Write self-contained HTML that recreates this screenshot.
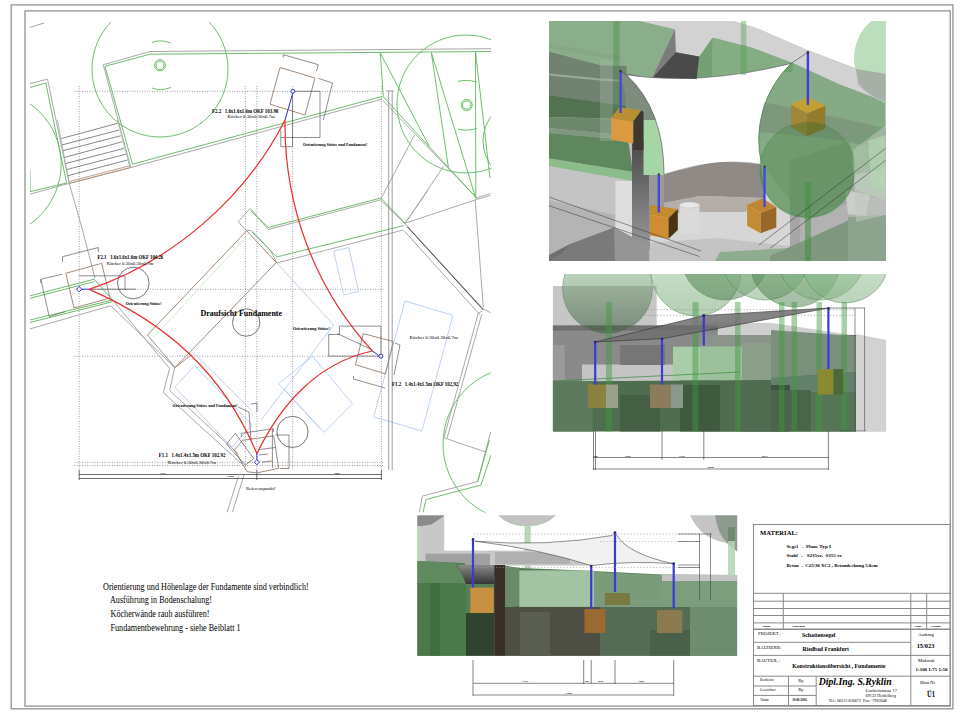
<!DOCTYPE html>
<html><head><meta charset="utf-8"><style>
html,body{margin:0;padding:0;background:#fff;width:960px;height:720px;overflow:hidden}
svg{display:block;position:absolute;left:0;top:0}
text{font-family:"Liberation Serif",serif;fill:#000}
.b{font-weight:bold}
</style></head><body>
<svg width="960" height="720" viewBox="0 0 960 720">
<!-- frames -->
<rect x="11.2" y="4.9" width="941.7" height="703.9" fill="none" stroke="#9a9a9a" stroke-width="1.4"/>
<rect x="25" y="10.9" width="925.3" height="695.2" fill="none" stroke="#9a9a9a" stroke-width="1.4"/>

<!-- PLAN -->
<g id="plan">
<defs><clipPath id="cp"><rect x="30" y="22" width="461" height="490.5"/></clipPath></defs>
<g clip-path="url(#cp)" fill="none">
<line x1="29.5" y1="27.5" x2="44.2" y2="23" stroke="#999" stroke-width="0.9"/>
<!-- dotted grid -->
<g stroke="#777" stroke-width="0.8" stroke-dasharray="0.9,1.6">
<line x1="74.5" y1="91.3" x2="384.2" y2="91.3"/>
<line x1="90" y1="289.3" x2="384" y2="289.3"/>
<line x1="74.5" y1="356.2" x2="384" y2="356.2"/>
<line x1="74.5" y1="462.3" x2="384" y2="462.3"/>
<line x1="74.5" y1="465.5" x2="384" y2="465.5"/>
<line x1="79.2" y1="86" x2="79.2" y2="470"/>
<line x1="245.4" y1="86" x2="245.4" y2="470"/>
<line x1="256.8" y1="86" x2="256.8" y2="470"/>
<line x1="292.7" y1="86" x2="292.7" y2="470"/>
<line x1="381.4" y1="86" x2="381.4" y2="470"/>
</g>
<!-- green trees -->
<g stroke="#5cb85c" stroke-width="0.9">
<circle cx="160" cy="69" r="68"/>
<circle cx="160" cy="65.3" r="5.5"/><circle cx="160" cy="65.3" r="4.2"/>
<path d="M152,42.5 Q160,39 170.8,43"/><path d="M152,88 Q160,91.5 170.8,87.5"/>
<circle cx="466" cy="104" r="69"/>
<circle cx="466.7" cy="105" r="5.5"/><circle cx="466.7" cy="105" r="4.2"/>
<path d="M458,81.5 Q466,79 476.7,82"/><path d="M458,129 Q466,131.5 476.7,128.5"/>
<circle cx="-12.5" cy="164" r="73.7"/>
<circle cx="520" cy="444" r="77"/>
<circle cx="524" cy="141" r="41"/>
<!-- green tree lines right -->
<line x1="380.3" y1="53" x2="383.3" y2="96.7"/>
<line x1="380.3" y1="53" x2="429.2" y2="146.3"/>
<line x1="431.3" y1="52.5" x2="448.3" y2="166.7"/>
<line x1="431.3" y1="52.5" x2="475.8" y2="198.3"/>
<line x1="475.5" y1="52" x2="475.8" y2="198.3"/>
<line x1="475.5" y1="52" x2="490" y2="178"/>
</g>
<!-- buildings: gray outlines -->
<g stroke="#a9a9a9" stroke-width="1">
<polyline points="26,84.5 47.5,79.2 69.2,183.3"/>
<polyline points="30,194.2 69.2,183.3 130.8,167.5 381.7,99.2 476,197.3"/>
<polyline points="103.3,64.7 150,51.5 491,48.7"/>
<line x1="103.3" y1="64.7" x2="130.8" y2="167.5"/>
<polyline points="26,198 26,198"/>
<line x1="82.5" y1="230" x2="69.2" y2="183.3"/>
<line x1="82.5" y1="230" x2="95" y2="278.3"/>
<polyline points="26,330 110.8,305.8"/>
<polyline points="113.3,300.8 169.6,368.5 163.3,392.5 234.2,457.1 242,464"/>
<polyline points="110.8,305.8 174.8,367.5 169.6,390.4 238.3,454"/>
<polyline points="238.3,221.7 250.3,208.3 268.3,229.5 380.4,199.9 404.8,223.4 483.3,309 490.5,312.7"/>
<line x1="407.5" y1="227" x2="483.3" y2="310" stroke="#4a4a4a"/>
<polyline points="403.9,230.6 479.7,314.5"/>
<polyline points="482,311 478.3,313.3 443.9,437.8 486.1,452.2"/>
<polyline points="481.7,314.4 447.2,437.8"/>
<polyline points="490.6,432.2 477.7,481.6 422.3,496.1 419.4,512.5"/>
<polyline points="238.3,221.7 245.8,230 251.7,230.8 270,250 277,263"/>
<polyline points="277,263 403.3,230"/>
<polyline points="404.8,223.4 475.2,199.9 490.5,195.4"/><line x1="476" y1="198" x2="490.5" y2="193.5"/>
<line x1="405.2" y1="223.3" x2="443.7" y2="166"/>
<line x1="381.2" y1="198.3" x2="414.6" y2="134.8"/>
<line x1="475.2" y1="199.9" x2="483.3" y2="307.3"/>
<line x1="404.8" y1="223.4" x2="428.2" y2="190"/>

<polyline points="238.5,476 227,512.6"/>
<polyline points="244,475 232.3,512.6"/>
</g>
<g stroke="#5fb35f" stroke-width="0.9">
<polyline points="30,87.5 45.8,83 57.5,140 66.7,183"/>
<polyline points="105,66.3 150,54.2 491,51.5"/>
<line x1="105" y1="66.3" x2="132.5" y2="164.2"/>
<polyline points="30,170 30,191.7 66.7,183"/>
<polyline points="132.5,164.2 380.5,96.8 382.5,97"/>
<line x1="383.3" y1="97" x2="476" y2="197.3"/>
<polyline points="30,295.8 94.2,279.2 112.5,300 30,320"/>
<polyline points="30,298.3 94.2,281.7"/>
<polyline points="30,322.5 112.5,301.7"/>
<polyline points="250.8,210.8 268.3,227.5 380.8,198 405,223"/>
<polyline points="252,232 277,257"/>
<polyline points="277.3,256.8 403.6,225.6"/>
<polyline points="491,374 491,374"/>
<polyline points="489.4,440 477.7,481.6"/>
<polyline points="491,455 481,485 426,499.5 423,512.5"/>
</g>
<!-- stairs -->
<g stroke="#6a6a6a" stroke-width="0.8">
<line x1="60.8" y1="138.7" x2="117.5" y2="123.3"/>
<line x1="61.7" y1="145" x2="119.2" y2="130"/>
<line x1="62.5" y1="150.8" x2="120.8" y2="135.8"/>
<line x1="64.2" y1="157.5" x2="122.5" y2="141.7"/>
<line x1="65" y1="163.7" x2="124.2" y2="148.3"/>
<line x1="66.3" y1="169.7" x2="125.8" y2="154.2"/>
<line x1="67.5" y1="175.8" x2="127.5" y2="160"/>
</g>
<g stroke="#b08a70" stroke-width="0.8"><line x1="69.2" y1="181.5" x2="130" y2="165.7"/><line x1="69.5" y1="183.5" x2="130.5" y2="167.5"/></g>
<g stroke="#a9a9a9" stroke-width="0.8">
<line x1="57.5" y1="120" x2="69.2" y2="183.3"/>
<line x1="117.5" y1="120" x2="130" y2="167.5"/>
</g>
<!-- light blue shapes -->
<g stroke="#aac8ea" stroke-width="0.8">
<polygon points="333.7,251.2 348.7,247.5 358.7,291.2 343.7,295"/>
<polygon points="278.7,383.7 312.5,356.2 352.5,403.7 324.2,432.4"/>
<polygon points="405,301 453,315.4 421.9,431.1 373.7,416.8"/>
<polyline points="277.5,263.7 333.7,325 261.2,420"/>
<polygon points="174.8,387.3 194.6,365.4 252,425 232,447"/>
<line x1="192.5" y1="351.9" x2="252" y2="411"/>
<line x1="153.7" y1="337.5" x2="243.7" y2="240" stroke="#c8e6c8"/>
<line x1="285" y1="390" x2="320" y2="428.7"/>
</g>
<!-- brown rect -->
<g stroke="#9a7e6a" stroke-width="0.9">
<polygon points="246.7,230.8 276.3,262.5 175,367.5 147.5,335"/>
<line x1="175" y1="367.5" x2="191.2" y2="355"/>
</g>
<!-- black circles -->
<g stroke="#555" stroke-width="0.8">
<circle cx="133.3" cy="283" r="15.8"/>
<circle cx="246.2" cy="322.5" r="13.7"/>
<circle cx="292.5" cy="431.9" r="15.6"/>
</g>
<!-- double vertical dim line right -->
<g stroke="#888" stroke-width="0.8">
<line x1="388.7" y1="90.8" x2="388.7" y2="470"/>
<line x1="392.2" y1="90.8" x2="392.2" y2="470"/>
<line x1="386" y1="91" x2="394" y2="91"/>
</g>
<!-- bottom dim lines -->
<g stroke="#444" stroke-width="0.8">
<line x1="79" y1="474.5" x2="381.5" y2="474.5"/>
<line x1="79" y1="478.5" x2="381.5" y2="478.5"/>
<line x1="79.2" y1="470" x2="79.2" y2="480"/>
<line x1="256.8" y1="470" x2="256.8" y2="480"/>
<line x1="381.4" y1="470" x2="381.4" y2="480"/>
</g>
<!-- foundations -->
<g stroke="#9a7e6a" stroke-width="0.9">
<polygon points="280,67.5 315,78 305,115 270,104.2"/>
<polygon points="65.8,273.3 101.7,263.3 110,298 74,308"/>
<polygon points="363.3,333.6 393.2,341.5 385.4,373.9 355.5,364.7"/>
<polygon points="242.4,440.4 273.7,435.8 278.7,468.3 257,472.9 247,471.7 234.5,450"/>
</g>
<!-- dims around foundations -->
<g stroke="#444" stroke-width="0.6">
<polyline points="283.3,57.5 283.3,54.7 318.3,64.7 316.5,71"/>
<polyline points="318.3,78.3 332.5,83 323.3,120"/>
<polyline points="292.8,91.3 320,91.3 320,137.5 280.8,137.5"/>
<line x1="292.5" y1="91.3" x2="292.5" y2="146.7"/>
<polyline points="280.8,130 280.8,146.7 292.5,146.7"/>
<polyline points="62.5,262 62.5,256.7 98.3,247.5 98.3,252"/>
<polyline points="40.8,283 40.8,279.2 62.5,274.2"/>
<polyline points="40.8,279.2 49.2,316.7 65,311.7"/>
<polyline points="79.2,275.8 125,275.8 125,290"/>
<line x1="89.2" y1="289.2" x2="135.8" y2="289.2" stroke="#333"/>
<polyline points="339.4,335 339.4,326.1 380.9,326.1 380.9,356"/>
<line x1="328.3" y1="356.1" x2="378.9" y2="356.1"/>
<polyline points="328.7,356.2 328.7,334.5 340,334.5"/>
<line x1="337.5" y1="333.7" x2="372.5" y2="350"/>
<polyline points="353.5,376 353.5,379 385,388"/>
<polyline points="395,343 400,345 394,375"/>
<polyline points="238,407 249,412 251,440"/>
<polyline points="251,404 257,403 257,412"/>
<polyline points="241.5,437 241.2,433.3 273.3,428.7 273.3,432"/>
<polygon points="226.6,444.2 235.3,433.3 253.7,458.7 245.3,465"/>
<line x1="258.7" y1="449.6" x2="275.3" y2="447.5"/>
<line x1="272.4" y1="429" x2="272.4" y2="468"/>
<polyline points="275.3,435 289,435 289,468.5 280,468.5"/>
<line x1="259" y1="455" x2="268" y2="454"/>
<line x1="262" y1="462" x2="272" y2="461"/>
</g>
<!-- red curves -->
<g stroke="#ec2b2b" stroke-width="1.2">
<path d="M89.2,289.4 C172.4,261.2 245.6,198 285,120"/>
<path d="M285,120 C284,205.4 314.1,287.6 372.4,351"/>
<path d="M372.4,351 C317.2,362.7 280.2,405.2 256.9,453.7"/>
<path d="M89.2,289.4 C167.3,323.3 223.4,373.8 256.9,453.7"/>
</g>
<!-- blue points -->
<g stroke="#2b2bd8" stroke-width="1">
<line x1="292.8" y1="93" x2="285" y2="120"/>
<circle cx="292.8" cy="91.3" r="1.9" fill="#fff"/>
<line x1="81.5" y1="289.2" x2="89.2" y2="289.2"/>
<polygon points="79.2,286.6 81.8,289.2 79.2,291.8 76.6,289.2" fill="#fff"/>
<line x1="378.5" y1="355.3" x2="372.4" y2="351"/>
<circle cx="380.9" cy="356.1" r="2" fill="#f4f0c0"/>
<line x1="256.9" y1="459.6" x2="256.9" y2="453.7"/>
<polygon points="256.9,459.6 259.5,462.2 256.9,464.8 254.3,462.2" fill="#fff"/>
</g>
</g>
<!-- plan text -->
<g fill="#000">
<text textLength="66.3" lengthAdjust="spacingAndGlyphs" x="212" y="112.5" font-size="5.6" font-weight="bold" style="white-space:pre">F2.2   1.6x1.6x1.6m OKF 103.90</text>
<text style="white-space:pre" textLength="47.2" lengthAdjust="spacingAndGlyphs" x="227.5" y="117.5" font-size="4.6">Köcher 0.30x0.30x0.7m</text>
<text style="white-space:pre" textLength="64.3" lengthAdjust="spacingAndGlyphs" x="303" y="145.5" font-size="3.7" font-weight="bold">Orientierung Stütze und Fundament!</text>
<text textLength="65.8" lengthAdjust="spacingAndGlyphs" x="97.5" y="259.2" font-size="5.6" font-weight="bold" style="white-space:pre">F2.1   1.6x1.6x1.6m OKF 104.26</text>
<text style="white-space:pre" textLength="46.6" lengthAdjust="spacingAndGlyphs" x="106.7" y="265.3" font-size="4.6">Köcher 0.30x0.30x0.7m</text>
<text style="white-space:pre" textLength="35.9" lengthAdjust="spacingAndGlyphs" x="125.8" y="305" font-size="3.7" font-weight="bold">Orientierung Stütze!</text>
<text style="white-space:pre" x="200.5" y="316.3" font-size="8" font-weight="bold">Draufsicht Fundamente</text>
<text style="white-space:pre" textLength="37" lengthAdjust="spacingAndGlyphs" x="293" y="329.5" font-size="3.7" font-weight="bold">Orientierung Stütze!</text>
<text style="white-space:pre" textLength="48.4" lengthAdjust="spacingAndGlyphs" x="409.4" y="339.4" font-size="4.6">Köcher 0.30x0.30x0.7m</text>
<text textLength="66.3" lengthAdjust="spacingAndGlyphs" x="392" y="385.6" font-size="5.6" font-weight="bold" style="white-space:pre">F1.2   1.4x1.4x1.5m OKF 102,92</text>
<text style="white-space:pre" textLength="65" lengthAdjust="spacingAndGlyphs" x="172.5" y="407" font-size="3.7" font-weight="bold">Orientierung Stütze und Fundament!</text>
<text textLength="66.7" lengthAdjust="spacingAndGlyphs" x="158.7" y="457" font-size="5.6" font-weight="bold" style="white-space:pre">F1.1   1.4x1.4x1.5m OKF 102.92</text>
<text style="white-space:pre" textLength="48.2" lengthAdjust="spacingAndGlyphs" x="168" y="463.8" font-size="4.6">Köcher 0.30x0.30x0.7m</text>
<text style="white-space:pre" textLength="29.6" lengthAdjust="spacingAndGlyphs" x="246" y="489.5" font-size="4.2">Referenzpunkt!</text>
<g font-size="2.8" font-weight="bold"><text style="white-space:pre" x="160" y="473.8">7474</text><text style="white-space:pre" x="227" y="477">13099</text><text style="white-space:pre" x="334" y="473.8">3850</text></g>
</g>
</g>


<!-- RENDERS -->
<g id="r1">
<defs><clipPath id="c1"><rect x="549" y="21" width="336.5" height="240"/></clipPath></defs>
<g clip-path="url(#c1)">
<rect x="549" y="21" width="337" height="240" fill="#bcbcbc"/>
<!-- left green block -->
<polygon points="549,21 640,21 675,29.3 652.4,77.3 626.5,74.8 620,66 600.7,65.2 549,51.4" fill="#8aad8a"/>
<polygon points="549,44 620,56 620,60 549,48" fill="#86a486" fill-opacity="0.6"/>
<polygon points="549,51.4 600.7,65.2 626.5,66 626.5,106.5 549,95" fill="#718271"/>
<polygon points="549,73.5 600,78.5 626.5,80 626.5,82 600,80.5 549,75.5" fill="#9aaa9a"/>
<polygon points="549,95 626.5,106 626.5,119 549,117" fill="#527252"/>
<polygon points="549,117 626.5,119 628,136 549,128" fill="#6c876c"/>
<polygon points="549,128 628,136 628,140 549,133" fill="#7f987f"/>
<polygon points="549,133 628,140 633,172 549,158.5" fill="#5e875e"/>
<polygon points="549,158.5 633,172 633,181 549,166.5" fill="#8abd8a"/>
<polygon points="600,60 613,60 613,141 600,141" fill="#b0c0b0" fill-opacity="0.3"/>
<!-- lower-left grays -->
<polygon points="549,166 633,181 633,261 549,261" fill="#c4c4c4"/>
<polygon points="549,200 615,215 615,261 549,261" fill="#b4b4b4"/>
<polygon points="615.5,181 633,181 633,261 615.5,261" fill="#dedede"/>
<defs><linearGradient id="g1s" x1="0" y1="0" x2="0" y2="1"><stop offset="0" stop-color="#4a4a4a"/><stop offset="1" stop-color="#9a9a9a"/></linearGradient></defs>
<polygon points="632,141 649,141 650,250 632,250" fill="url(#g1s)"/>
<polygon points="570,244 614,227.5 649,246 649,262 549,262 549,255" fill="#7a7a7a"/>
<polygon points="614,227.5 649,246 649,262 615,262" fill="#959595"/>
<g stroke="#555" stroke-width="0.5"><line x1="568" y1="246" x2="549" y2="256"/><line x1="566" y1="249" x2="549" y2="258"/><line x1="563" y1="252" x2="549" y2="260"/></g>
<!-- mid area -->
<polygon points="650,175 761,163 790,200 790,261 650,261" fill="#d6d6d6"/>
<polygon points="664,174 717,161 761,164 765,198 700,196 664,203" fill="#8f8a86"/>
<polygon points="649,168 664,174 664,212 650,214" fill="#999999"/>
<polygon points="664,203 700,196 765,198 745,212 700,212 664,214" fill="#b5aea8"/>
<polygon points="650,243 717,238 790,246 790,261 650,261" fill="#c4c4c4"/>
<polygon points="720,252 790,248 790,261 715,261" fill="#8fae8f"/>
<!-- right lower area -->
<polygon points="790,160 886,130 886,261 790,261" fill="#a6a6a6"/>
<polygon points="800,215 886,195 886,261 800,261" fill="#b2b2b2"/>
<polygon points="845,190 870,195 866,216 848,214" fill="#cdcdcd"/>
<polygon points="770,256 855,217.5 886,215 886,261 770,261" fill="#7f977f"/>
<polygon points="848,217 886,215 886,261 848,261" fill="#8ea38e"/>
<polygon points="850,140 886,120 886,200 855,190" fill="#b4c8b4"/>
<!-- mid-left column under TL pole -->
<polygon points="620,72 640,76 655,100 660,141 633,141 628,128 626.5,100" fill="#7d8c7d"/>
<polygon points="643.5,120 662,120 664,175 643.5,175" fill="#a6d6a6"/>

<!-- right green block -->
<polygon points="712.3,37.7 717,38.6 752,47.4 793,63 792,72 752,72 717,78.2 696.7,79 699.3,56.5" fill="#84ad84"/>
<polygon points="712.3,37.7 699.3,56.5 696.7,79 712,79" fill="#75a075"/>
<!-- white sail -->
<path d="M626.5,74.8 Q700,86 791,63.5 A106.2,106.2 0 0 0 761.4,164 Q720,156 664,174 Q664,110 626.5,74.8 Z" fill="#ffffff"/>
<path d="M626.5,74.8 Q700,86 791,63.5" fill="none" stroke="#555" stroke-width="0.6"/>
<path d="M664,174 Q664,110 626.5,74.8" fill="none" stroke="#444" stroke-width="0.6"/>
<!-- big sphere -->
<path d="M791,63.5 A106.2,106.2 0 0 0 761.5,164 L760,172 A47.6,47.6 0 0 0 855,175 L886,168 L886,21 L791,21 Z" fill="#5a9a5a" fill-opacity="0.55"/>
<path d="M791,63.5 A106.2,106.2 0 0 0 761.5,164" fill="none" stroke="#3f6f3f" stroke-width="0.6"/>
<polygon points="764,102 840,118 886,128 886,150 840,140 759,132" fill="#6a6a6a" fill-opacity="0.28"/>
<circle cx="807.5" cy="169.4" r="47.6" fill="#3a7a3a" fill-opacity="0.3" stroke="#4a8a4a" stroke-width="0.5"/>
<!-- gray band top -->
<polygon points="640,21 734,21 757,28 805,49 856,68.5 886,74 886,102 840,84.4 793,63 752,47.4 717,38.6 712.3,37.7 699.3,56.5 675.8,52.3 675,29.3" fill="#d2d2d2"/>
<!-- white top right -->
<polygon points="734,21 886,21 886,74 856,68.5 805,49 757,28" fill="#ffffff"/>
<!-- stairs -->
<polygon points="675,29.3 675.8,52.3 652.4,77.3" fill="#7c7c7c"/>
<polygon points="675.8,52.3 699.3,56.5 696.7,79 652.4,77.5" fill="#4a4a4a"/>
<polygon points="853,150 886,125 886,215 856,222" fill="#c0c8c0" fill-opacity="0.55"/>
<polygon points="868,141 886,135 886,190 872,188" fill="#b4d6b4" fill-opacity="0.7"/>
<!-- light mint circle top right -->
<circle cx="902" cy="58" r="48" fill="#b0d8b0" fill-opacity="0.85"/>
<path d="M856,69 L886,74 L886,102 Q868,96 858,84 Z" fill="#a0a0a0" fill-opacity="0.7"/>
<!-- cylinder -->
<rect x="679.5" y="205" width="20" height="29" fill="#dadada"/>
<ellipse cx="689.5" cy="205" rx="10" ry="3" fill="#e8e8e8" stroke="#bbb" stroke-width="0.5"/>
<!-- tree trunk green -->
<rect x="613.4" y="21" width="6.2" height="90" fill="#4f8f4f" fill-opacity="0.45"/>
<rect x="805" y="182" width="6" height="79" fill="#3f8f3f" fill-opacity="0.55"/>
<rect x="740.8" y="21" width="5.5" height="54" fill="#4f9a4f" fill-opacity="0.4"/>
<!-- orange boxes -->
<polygon points="633.2,121.4 641.3,110.3 643.5,112 643.5,150 633.2,150" fill="#3d3832"/>
<polygon points="611.1,117.9 633.2,121.4 633.2,143.5 611.1,139.7" fill="#d99a42"/>
<polygon points="611.1,117.9 619.5,107.2 641.3,110.3 633.2,121.4" fill="#b89032"/>
<polygon points="790.8,104.6 807.1,113.3 807.1,136.3 790.8,126.7" fill="#a0863a"/>
<polygon points="807.1,113.3 825.4,105.8 825.4,128.3 807.1,136.3" fill="#937a2c"/>
<polygon points="790.8,104.6 807.9,97.1 825.4,105.8 807.1,113.3" fill="#c2a034"/>
<path d="M790.8,125.5 Q807,119 825.4,124.5 L825.4,128.3 L807.1,136.3 L790.8,126.7 Z" fill="#2d6a2d" fill-opacity="0.35"/>
<polygon points="650,205 677,209 668.5,218 650,215" fill="#c58a2c"/>
<polygon points="650,215 668.5,218 668.5,238.8 650,235.5" fill="#d08c30"/>
<polygon points="668.5,218 677.8,209 677.8,230 668.5,238.8" fill="#4a3412"/>
<polygon points="747.1,205 762.5,198.3 776.3,207.1 760.8,212.9" fill="#c08530"/>
<polygon points="747.1,205 760.8,212.9 760.8,233.3 747.1,225.8" fill="#c48a34"/>
<polygon points="760.8,212.9 776.3,207.1 776.3,227.5 760.8,233.3" fill="#98682a"/>
<!-- blue poles -->
<line x1="620.6" y1="71" x2="620.6" y2="113" stroke="#4646e6" stroke-width="2.4"/>
<line x1="807.9" y1="52.3" x2="807.9" y2="105" stroke="#3c3ce0" stroke-width="2.4"/>
<line x1="658.8" y1="174.3" x2="658.8" y2="212.4" stroke="#4646e6" stroke-width="2.4"/>
<line x1="764.5" y1="166.5" x2="764.5" y2="207" stroke="#4646e6" stroke-width="2.4"/>
<g stroke="#444" stroke-width="0.6"><line x1="620.6" y1="71" x2="626.5" y2="74.8"/><line x1="807.9" y1="52.3" x2="791" y2="63.5"/></g>
<g fill="#333"><circle cx="620.6" cy="71" r="1.2"/><circle cx="807.9" cy="52.3" r="1.2"/><circle cx="658.8" cy="174.3" r="1.1"/><circle cx="764.5" cy="166.5" r="1.1"/></g>
<!-- dimension lines -->
<g stroke="#333" stroke-width="0.5" fill="none">
<line x1="549" y1="197" x2="701" y2="251"/>
<line x1="549" y1="205.7" x2="699.5" y2="256.5"/>
<line x1="759" y1="245" x2="886" y2="148"/>
<line x1="770" y1="248.4" x2="886" y2="160"/>
</g>
</g>
</g>
<g id="r2">
<defs><clipPath id="c2"><rect x="552.7" y="274" width="333.5" height="157.5"/></clipPath></defs>
<g clip-path="url(#c2)">
<rect x="552.7" y="274" width="334" height="158" fill="#ffffff"/>
<!-- right gray roof -->
<polygon points="700,322 771.6,323 886.4,340 886.4,432 700,432" fill="#cfcfcf"/>
<!-- left gray block -->
<rect x="552.7" y="286" width="104" height="40" fill="#c6c6c6"/>
<!-- mid band grays -->
<rect x="552.7" y="325.5" width="165" height="56" fill="#8a8a8a"/>
<rect x="552.7" y="325.5" width="165" height="5" fill="#6f6f6f"/>
<rect x="552.7" y="345" width="12" height="36" fill="#9a9a9a"/>
<rect x="582" y="364.5" width="98" height="16.5" fill="#c4c4c4"/>
<rect x="620" y="345" width="45" height="20" fill="#767676"/>
<rect x="700" y="335" width="160" height="12" fill="#8a948a"/>
<rect x="673" y="346.7" width="69" height="33.5" fill="#a9cca9"/>
<rect x="700" y="346.7" width="42" height="33.5" fill="#9cc09c"/>
<rect x="742" y="343" width="31" height="38" fill="#8a9e8a"/>
<polygon points="771,340 856,335 856,432 771,432" fill="#55745a"/>
<polygon points="771,330 856,336 856,372 771,378" fill="#7b907b"/>
<polygon points="771,378 856,372 856,392 771,392" fill="#62806a"/>
<rect x="740" y="385" width="50" height="47" fill="#3f523f"/>
<!-- lower band -->
<polygon points="552.7,381.5 771,380 771,432 552.7,432" fill="#4f6d4f"/>
<line x1="552.7" y1="381" x2="740" y2="372" stroke="#3a8a3a" stroke-width="0.7"/>
<rect x="552.7" y="381" width="40" height="51" fill="#5d7a5d"/>
<rect x="620" y="395" width="40" height="37" fill="#455f45"/>
<rect x="680" y="385" width="40" height="47" fill="#3f5a3f"/>
<rect x="720" y="381" width="51" height="51" fill="#506c50"/>
<rect x="771" y="390" width="40" height="42" fill="#4a654a"/>
<rect x="811" y="395" width="45" height="37" fill="#557555"/>
<!-- far right -->
<polygon points="856,334 886.4,340 886.4,432 856,432" fill="#d2d2d2"/>
<!-- spheres -->
<defs>
<linearGradient id="sgA" x1="0" y1="0" x2="0" y2="1"><stop offset="0" stop-color="#a8d8a8"/><stop offset="1" stop-color="#3c5a3c"/></linearGradient>
<linearGradient id="sgL" x1="0" y1="0" x2="0" y2="1"><stop offset="0" stop-color="#b0dcb0"/><stop offset="1" stop-color="#78a878"/></linearGradient>
<linearGradient id="sgD" x1="0" y1="0" x2="0" y2="1"><stop offset="0" stop-color="#5aa05a"/><stop offset="1" stop-color="#3a6e3a"/></linearGradient>
</defs>
<g stroke="#5a8a5a" stroke-width="0.5">
<circle cx="607.5" cy="288.5" r="45" fill="url(#sgA)" fill-opacity="0.55"/>
<circle cx="696" cy="271" r="45" fill="url(#sgL)" fill-opacity="0.55"/>
<circle cx="725" cy="256" r="44" fill="url(#sgD)" fill-opacity="0.45"/>
<circle cx="765" cy="256" r="44" fill="url(#sgL)" fill-opacity="0.5"/>
<circle cx="795" cy="262" r="45" fill="url(#sgD)" fill-opacity="0.45"/>
<circle cx="821" cy="256" r="44" fill="url(#sgL)" fill-opacity="0.5"/>
<circle cx="845" cy="259" r="44" fill="url(#sgL)" fill-opacity="0.5"/>
</g>
<!-- trunks -->
<g fill="#3f9a3f" fill-opacity="0.45">
<rect x="606" y="302" width="6" height="130"/>
<rect x="692.5" y="302" width="6" height="130"/>
<rect x="735" y="302" width="5.5" height="130"/>
<rect x="779" y="302" width="5.5" height="130"/>
<rect x="791.5" y="302" width="5.5" height="130"/>
<rect x="816.5" y="302" width="5.5" height="130"/>
<rect x="841.5" y="302" width="5.5" height="130"/>
</g>
<!-- sail -->
<polygon points="595,342 704,315.5 828.7,308 662,338.7" fill="#6e6e6e" fill-opacity="0.85" stroke="#333" stroke-width="0.6"/>
<!-- dotted -->
<g stroke="#888" stroke-width="0.7" stroke-dasharray="1.2,2">
<line x1="590" y1="309.7" x2="855" y2="309.7"/>
<line x1="590" y1="315.3" x2="855" y2="315.3"/>
</g>
<!-- boxes -->
<rect x="588" y="384.5" width="18" height="23.5" fill="#8c8240"/>
<rect x="606" y="384.5" width="12" height="23.5" fill="#9aa08a"/>
<rect x="650" y="384.5" width="21" height="23.5" fill="#8c7c5c"/>
<rect x="671" y="384.5" width="12" height="23.5" fill="#8a9a8a"/>
<rect x="817.5" y="369" width="16" height="25.5" fill="#8a8a30"/>
<rect x="833.5" y="369" width="9.5" height="25.5" fill="#4a6a3a"/>
<!-- poles -->
<g stroke="#3a3ad8" stroke-width="2.2">
<line x1="595.2" y1="342" x2="595.2" y2="384.5"/>
<line x1="662" y1="338.5" x2="662" y2="384.5"/>
<line x1="703.8" y1="315.3" x2="703.8" y2="345.6"/>
<line x1="828.4" y1="308" x2="828.4" y2="369"/>
</g>
<g fill="#22228a"><circle cx="595.2" cy="342" r="1.3"/><circle cx="662" cy="338.7" r="1.3"/><circle cx="703.8" cy="315.4" r="1.5"/><circle cx="828.4" cy="308.3" r="1.3"/></g>
<!-- right dims -->
<g stroke="#444" stroke-width="0.6" fill="none">
<line x1="855" y1="308" x2="855" y2="431"/>
<line x1="864.6" y1="308" x2="864.6" y2="431"/>
<line x1="828" y1="308" x2="865" y2="308"/>
<line x1="840" y1="431" x2="866" y2="431"/>
</g>
</g>
<!-- dims below R2 -->
<g stroke="#333" stroke-width="0.6" fill="none">
<line x1="593.5" y1="431" x2="593.5" y2="470"/>
<line x1="595.5" y1="431" x2="595.5" y2="470"/>
<line x1="662" y1="431" x2="662" y2="460"/>
<line x1="703.8" y1="431" x2="703.8" y2="460"/>
<line x1="828.4" y1="431" x2="828.4" y2="470"/>
<line x1="593" y1="457.5" x2="829" y2="457.5"/>
<line x1="593" y1="469" x2="829" y2="469"/>
</g>
<g font-size="2.8" font-weight="bold">
<text style="white-space:pre" x="593.5" y="456.5">300</text>
<text style="white-space:pre" x="625" y="456.5">6305</text>
<text style="white-space:pre" x="679" y="456.5">3710</text>
<text style="white-space:pre" x="762" y="456.5">8171</text>
<text style="white-space:pre" x="707" y="468">18466</text>
</g>
</g>

<g id="r3">
<defs><clipPath id="c3"><rect x="417.2" y="515.2" width="320" height="140.5"/></clipPath></defs>
<g clip-path="url(#c3)">
<rect x="417" y="515" width="321" height="141" fill="#ffffff"/>
<!-- top-left gray block -->
<rect x="417.2" y="515.2" width="27" height="46" fill="#c8c8c8"/>
<polygon points="417.2,515.2 444.3,515.2 444,516.1 431.4,524.4 417.2,526.7" fill="#8a8a8a"/>
<rect x="417.2" y="526" width="2.8" height="35" fill="#b8d8b8"/>
<!-- top sphere (gray mushroom) -->
<path d="M498.5,515.2 L555.7,515.2 Q545,526 527,526 Q509,526 498.5,515.2 Z" fill="#c2c2c2" stroke="#8fc08f" stroke-width="0.5"/>
<rect x="524.5" y="525.6" width="6.2" height="45" fill="#b8d8b8"/>
<!-- top right sphere -->
<path d="M690.4,515.2 Q700,538 725.8,542.6 L737.5,551.7 L737.5,515.2 Z" fill="#c4c4c4" stroke="#9fd09f" stroke-width="0.4"/>
<path d="M715,515.2 Q718,535 727.2,542.6 L737.5,551.7 L737.5,515.2 Z" fill="#8f9a8f"/>
<rect x="728" y="527" width="7" height="14" fill="#6f8a6f"/>
<rect x="728" y="541" width="7" height="80" fill="#b0d4b0" fill-opacity="0.85"/>
<!-- light band -->
<rect x="444" y="550.6" width="150" height="15" fill="#c8c8c8"/>
<rect x="495" y="552" width="75" height="12" fill="#b0b0b0"/>
<rect x="425.5" y="553.7" width="64.5" height="11.5" fill="#a0a0a0"/>
<!-- green main -->
<polygon points="417.2,561 464,563 470,570 500,565 520,568 572,570 661.6,574.6 737.5,575 737.5,656 417.2,656" fill="#557f55"/>
<polygon points="417.2,561 455,563 467,584 417.2,584" fill="#5f8a5f"/>
<polygon points="417.2,583 466,583 466,656 417.2,656" fill="#4a7a4a"/>
<rect x="430" y="583" width="10" height="73" fill="#3f6f3f"/>
<defs><linearGradient id="g3" x1="0" y1="0" x2="0" y2="1"><stop offset="0" stop-color="#8a8a8a"/><stop offset="1" stop-color="#353535"/></linearGradient></defs>
<polygon points="458,565 494,565 494,584 466,584" fill="url(#g3)"/>
<rect x="466" y="613" width="28" height="43" fill="#2f432f"/>
<rect x="494.3" y="565" width="11" height="91" fill="#3a2e28"/>
<polygon points="505,566 519,568 519,605 505,610" fill="#6a8a6a"/>
<rect x="519.3" y="570.4" width="75" height="36.5" fill="#a2c4a2"/>
<polygon points="594,572 662,575 662,607 594,607" fill="#7a9c7a"/>
<rect x="662" y="575" width="75.5" height="6" fill="#c4c4c4"/>
<polygon points="662,581 737.5,581 737.5,607 662,607" fill="#7d9e7d"/>
<rect x="505" y="607" width="95" height="49" fill="#4d4f44"/>
<rect x="520" y="612" width="30" height="44" fill="#5a5e52"/>
<rect x="600" y="607" width="90" height="49" fill="#566b56"/>
<rect x="690" y="607" width="47.5" height="49" fill="#6e8c6e"/>
<rect x="650" y="630" width="40" height="26" fill="#4a604a"/>
<!-- sail -->
<path d="M474.8,541.2 Q548,547 612,535.5 L615,532.5 Q626,554 673.7,563.7 Q630,560.5 591.2,565.6 Q540,549 474.8,541.2 Z" fill="#f1f1f1" stroke="#444" stroke-width="0.6"/>
<!-- boxes -->
<rect x="470.3" y="587.5" width="23.4" height="25.5" fill="#c99040"/>
<rect x="584.5" y="609" width="20.8" height="24" fill="#9a6a30"/>
<rect x="605" y="593" width="25" height="12" fill="#7a7a40"/>
<rect x="657" y="610" width="25.4" height="23" fill="#8a7a50"/>
<!-- poles -->
<g stroke="#3a3ad8" stroke-width="2.2">
<line x1="473" y1="539" x2="473" y2="587.5"/>
<line x1="591.2" y1="566" x2="591.2" y2="609"/>
<line x1="615" y1="532" x2="615" y2="592"/>
<line x1="673.7" y1="563" x2="673.7" y2="608"/>
</g>
<g fill="#22228a"><circle cx="473" cy="539.2" r="1.2"/><circle cx="615" cy="532.5" r="1.3"/><circle cx="591.2" cy="566" r="1.2"/><circle cx="673.7" cy="563.5" r="1.2"/></g>
<!-- dotted lines -->
<g stroke="#999" stroke-width="0.6" stroke-dasharray="1.2,2">
<line x1="474" y1="534" x2="700" y2="534"/>
<line x1="600" y1="541.5" x2="700" y2="541.5"/>
<line x1="474" y1="567.5" x2="700" y2="567.5"/>
</g>
<g stroke="#444" stroke-width="0.6">
<line x1="699.5" y1="534" x2="699.5" y2="600"/>
<line x1="710.5" y1="534" x2="710.5" y2="600"/>
<line x1="678" y1="534" x2="712" y2="534"/>
<line x1="678" y1="541.5" x2="700" y2="541.5"/>
<line x1="678" y1="565" x2="700" y2="565"/>
<line x1="678" y1="567.5" x2="700" y2="567.5"/>
</g>
</g>
<!-- dims below R3 -->
<g stroke="#333" stroke-width="0.6" fill="none">
<line x1="473" y1="660" x2="473" y2="696"/>
<line x1="583.7" y1="660" x2="583.7" y2="684"/>
<line x1="591.2" y1="660" x2="591.2" y2="684"/>
<line x1="615" y1="660" x2="615" y2="684"/>
<line x1="673.7" y1="660" x2="673.7" y2="696"/>
<line x1="473" y1="683.3" x2="673.7" y2="683.3"/>
<line x1="473" y1="695" x2="673.7" y2="695"/>
</g>
<g font-size="2.8" font-weight="bold">
<text style="white-space:pre" x="522.5" y="682">7474</text>
<text style="white-space:pre" x="584.5" y="682">300</text>
<text style="white-space:pre" x="597.5" y="682">1049</text>
<text style="white-space:pre" x="638.5" y="682">3850</text>
<text style="white-space:pre" x="565.5" y="693.8">13099</text>
</g>
</g>


<!-- notes -->
<g font-size="9.6">
<text style="white-space:pre" textLength="205.7" lengthAdjust="spacingAndGlyphs" font-size="9.4" x="103" y="590">Orientierung und Höhenlage der Fundamente sind verbindlich!</text>
<text textLength="102" lengthAdjust="spacingAndGlyphs" style="white-space:pre" font-size="9.4" x="110" y="603.3">Ausführung in Bodenschalung!</text>
<text textLength="99" lengthAdjust="spacingAndGlyphs" style="white-space:pre" font-size="9.4" x="110.5" y="617">Köcherwände rauh ausführen!</text>
<text style="white-space:pre" textLength="130" lengthAdjust="spacingAndGlyphs" font-size="9.4" x="110.5" y="630.8">Fundamentbewehrung - siehe Beiblatt 1</text>
</g>

<!-- TITLE BLOCK -->
<g id="tb" stroke="#8a8a8a" stroke-width="1" fill="none">
<rect x="753.5" y="524.5" width="196.5" height="181" fill="#fff"/>
<line x1="753.5" y1="593.3" x2="950" y2="593.3"/>
<line x1="753.5" y1="601.2" x2="950" y2="601.2"/>
<line x1="753.5" y1="608.5" x2="950" y2="608.5"/>
<line x1="753.5" y1="615.5" x2="950" y2="615.5"/>
<line x1="753.5" y1="622.9" x2="950" y2="622.9"/>
<line x1="783.3" y1="593.3" x2="783.3" y2="629"/>
<line x1="910.8" y1="593.3" x2="910.8" y2="705.5"/>
<line x1="926.7" y1="593.3" x2="926.7" y2="629"/>
<line x1="753.5" y1="629.2" x2="950" y2="629.2" stroke-width="1.4"/>
<line x1="753.5" y1="642.3" x2="910.8" y2="642.3"/>
<line x1="753.5" y1="655.4" x2="950" y2="655.4"/>
<line x1="753.5" y1="676.2" x2="950" y2="676.2"/>
<line x1="753.5" y1="686" x2="816.2" y2="686"/>
<line x1="753.5" y1="695.4" x2="816.2" y2="695.4"/>
<line x1="788.5" y1="676.2" x2="788.5" y2="705.5"/>
<line x1="816.2" y1="676.2" x2="816.2" y2="705.5"/>
</g>
<g id="tbt">
<text style="white-space:pre" textLength="38" lengthAdjust="spacingAndGlyphs" x="760" y="534.6" font-size="6.6" class="b">MATERIAL:</text>
<text style="white-space:pre" textLength="44.5" lengthAdjust="spacingAndGlyphs" x="786.5" y="547.7" font-size="4.6" class="b">Segel   -  Plane Typ I</text>
<text style="white-space:pre" textLength="55.2" lengthAdjust="spacingAndGlyphs" x="786.5" y="557.4" font-size="4.6" class="b">Stahl   -   S235vz,  S355 vz</text>
<text style="white-space:pre" textLength="91" lengthAdjust="spacingAndGlyphs" x="786.5" y="566.9" font-size="4.6" class="b">Beton  -  C25/30 XC2 , Betondeckung 5.0cm</text>
<text textLength="8" lengthAdjust="spacingAndGlyphs" x="762.5" y="626.7" font-size="2.8" class="b">Index</text>
<text textLength="13.7" lengthAdjust="spacingAndGlyphs" x="791.2" y="626.7" font-size="2.8" class="b">Änderung</text>
<text textLength="7.1" lengthAdjust="spacingAndGlyphs" x="914.3" y="626.7" font-size="2.8" class="b">Name</text>
<text textLength="9.4" lengthAdjust="spacingAndGlyphs" x="931.2" y="626.7" font-size="2.8" class="b">Datum</text>
<text style="white-space:pre" textLength="23.2" lengthAdjust="spacingAndGlyphs" x="758" y="634.6" font-size="4.4">PROJEKT :</text>
<text style="white-space:pre" textLength="33.4" lengthAdjust="spacingAndGlyphs" x="802" y="636.7" font-size="5.6" class="b">Schattensegel</text>
<text style="white-space:pre" textLength="24.2" lengthAdjust="spacingAndGlyphs" x="757" y="648.5" font-size="4.4">BAUHERR:</text>
<text style="white-space:pre" textLength="46.5" lengthAdjust="spacingAndGlyphs" x="802.5" y="651" font-size="5.6" class="b">Riedbad Frankfurt</text>
<text style="white-space:pre" textLength="23.2" lengthAdjust="spacingAndGlyphs" x="757" y="662" font-size="4.4">BAUTEIL :</text>
<text style="white-space:pre" textLength="93.1" lengthAdjust="spacingAndGlyphs" x="792.3" y="668" font-size="5.6" class="b">Konstruktionsübersicht , Fundamente</text>
<text style="white-space:pre" textLength="15.5" lengthAdjust="spacingAndGlyphs" x="918.3" y="636" font-size="4.4">Auftrag</text>
<text style="white-space:pre" textLength="17.7" lengthAdjust="spacingAndGlyphs" x="916.7" y="647.5" font-size="6.6" class="b">15/023</text>
<text style="white-space:pre" textLength="16.4" lengthAdjust="spacingAndGlyphs" x="918" y="662" font-size="4.4">Maßstab</text>
<text style="white-space:pre" textLength="31.9" lengthAdjust="spacingAndGlyphs" x="915.6" y="671" font-size="4.6" class="b">1:100 1:75 1:50</text>
<text style="white-space:pre" textLength="15" lengthAdjust="spacingAndGlyphs" x="920" y="684" font-size="4.4">Blatt Nr</text>
<text style="white-space:pre" textLength="8" lengthAdjust="spacingAndGlyphs" x="927" y="697" font-size="7.4" class="b">Ü1</text>
<text style="white-space:pre" textLength="73" lengthAdjust="spacingAndGlyphs" x="818.7" y="685.4" font-size="10.2" class="b" font-style="italic">Dipl.Ing. S.Ryklin</text>
<text style="white-space:pre" textLength="31.3" lengthAdjust="spacingAndGlyphs" x="865.6" y="691.7" font-size="3.8">Lischeitstrasse 17</text>
<text style="white-space:pre" textLength="30.2" lengthAdjust="spacingAndGlyphs" x="865.6" y="696.5" font-size="3.8">69123 Heidelberg</text>
<text style="white-space:pre" textLength="58.2" lengthAdjust="spacingAndGlyphs" x="828.7" y="702" font-size="3.8">Tel.: 06221-830673  Fax: -7963048</text>
<text style="white-space:pre" textLength="14" lengthAdjust="spacingAndGlyphs" x="760" y="681" font-size="3">Bearbeiter</text>
<text style="white-space:pre" textLength="15.4" lengthAdjust="spacingAndGlyphs" x="760" y="690.8" font-size="3">Gezeichnet</text>
<text textLength="8.3" lengthAdjust="spacingAndGlyphs" x="760.4" y="701" font-size="3">Datum</text>
<text style="white-space:pre" textLength="5.4" lengthAdjust="spacingAndGlyphs" x="798.3" y="682" font-size="4.6">Ry</text>
<text style="white-space:pre" textLength="5.4" lengthAdjust="spacingAndGlyphs" x="798.3" y="691.2" font-size="4.6">Ry</text>
<text textLength="14.6" lengthAdjust="spacingAndGlyphs" x="792.2" y="701" font-size="3" class="b">10.06.2016</text>
</g>
</svg>
</body></html>
